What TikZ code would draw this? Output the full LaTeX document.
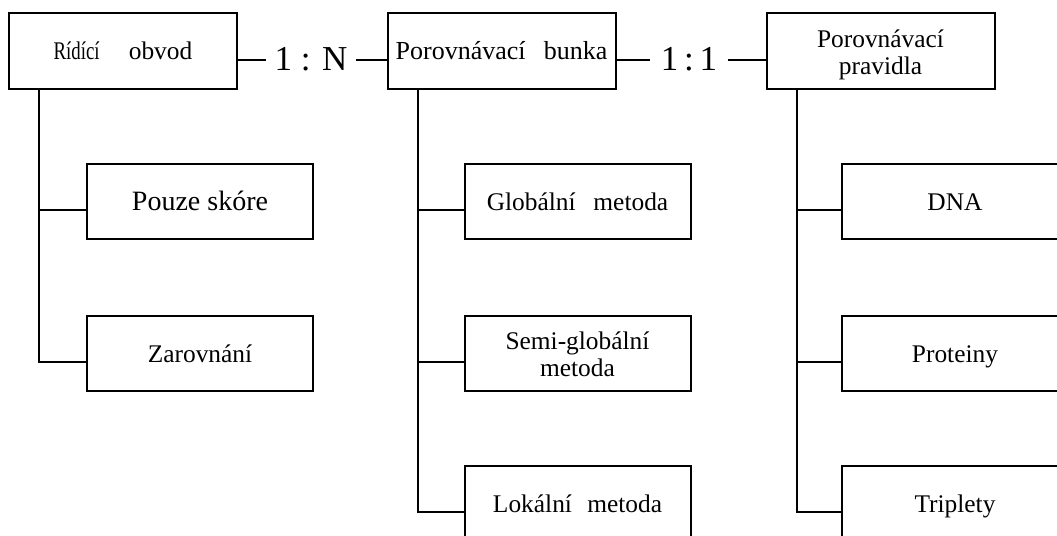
\documentclass[tikz,border=0pt]{standalone}
\usepackage{fontspec}
\setmainfont{Liberation Serif}
\usepackage{graphicx}

% two centred lines, drawn a little lower than the node centre
\newcommand{\twolines}[2]{\raisebox{-2pt}[\height][\depth]{%
  \begin{tabular}{@{}c@{}}#1\\[-1pt]#2\end{tabular}}}

\tikzset{
  link/.style={line width=1pt},
  headbox/.style={draw, line width=1pt, minimum width=114pt, minimum height=38pt,
    inner sep=1pt, align=center, font=\fontsize{12.7}{14.5}\selectfont},
  itembox/.style={headbox, minimum width=113pt, minimum height=37.5pt},
  oneline/.style={text height=0.86em, text depth=0pt},
  ratio/.style={inner sep=4pt, font=\fontsize{17.5}{20}\selectfont},
}

\begin{document}
\begin{tikzpicture}[x=0.5pt, y=-0.5pt]
  \path[use as bounding box] (0,0) rectangle (1057,536);
  \clip (0,0) rectangle (1057,536);

  % top row
  \node[headbox, oneline] (ridici) at (123,51)
    {\scalebox{0.74}[1]{Rídící}\hspace{0.9em} obvod};
  \node[headbox, oneline] (bunka) at (501.5,51)
    {\fontsize{13}{14}\selectfont Porovnávací\hspace{0.45em} bunka};
  \node[headbox] (pravidla) at (880.5,51) {\twolines{Porovnávací}{pravidla}};

  \node[ratio] (ratioN) at (311,59.5) {1 : N};
  \node[ratio, inner sep=5pt] (ratioOne) at (689,59.5) {1\,:\,1};

  \draw[link] (ratioN.west -| ridici.east) -- (ratioN.west);
  \draw[link] (ratioN.east) -- (ratioN.east -| bunka.west);
  \draw[link] (ratioOne.west -| bunka.east) -- (ratioOne.west);
  \draw[link] (ratioOne.east) -- (ratioOne.east -| pravidla.west);

  % left column
  \node[itembox, oneline, font=\fontsize{14}{15}\selectfont] (skore) at (200,201.5) {Pouze skóre};
  \node[itembox, oneline] (zarovnani) at (200,353.5) {Zarovnání};

  % middle column
  \node[itembox, oneline] (globalni) at (577.5,201.5) {Globální\hspace{0.45em} metoda};
  \node[itembox] (semi) at (577.5,353.5) {\twolines{Semi-globální}{metoda}};
  \node[itembox, oneline] (lokalni) at (577.5,503.5) {Lokální\hspace{0.35em} metoda};

  % right column (cut by the page edge)
  \node[itembox, oneline] (dna) at (955,201.5) {DNA};
  \node[itembox, oneline] (proteiny) at (955,353.5) {Proteiny};
  \node[itembox, oneline] (triplety) at (955,503.5) {Triplety};

  % tree branches
  \foreach \head/\item in {ridici/skore, ridici/zarovnani,
      bunka/globalni, bunka/semi, bunka/lokalni,
      pravidla/dna, pravidla/proteiny, pravidla/triplety}{
    \draw[link] ([xshift=15.5pt]\head.south west) |- ([yshift=-4pt]\item.west);
  }
\end{tikzpicture}
\end{document}
